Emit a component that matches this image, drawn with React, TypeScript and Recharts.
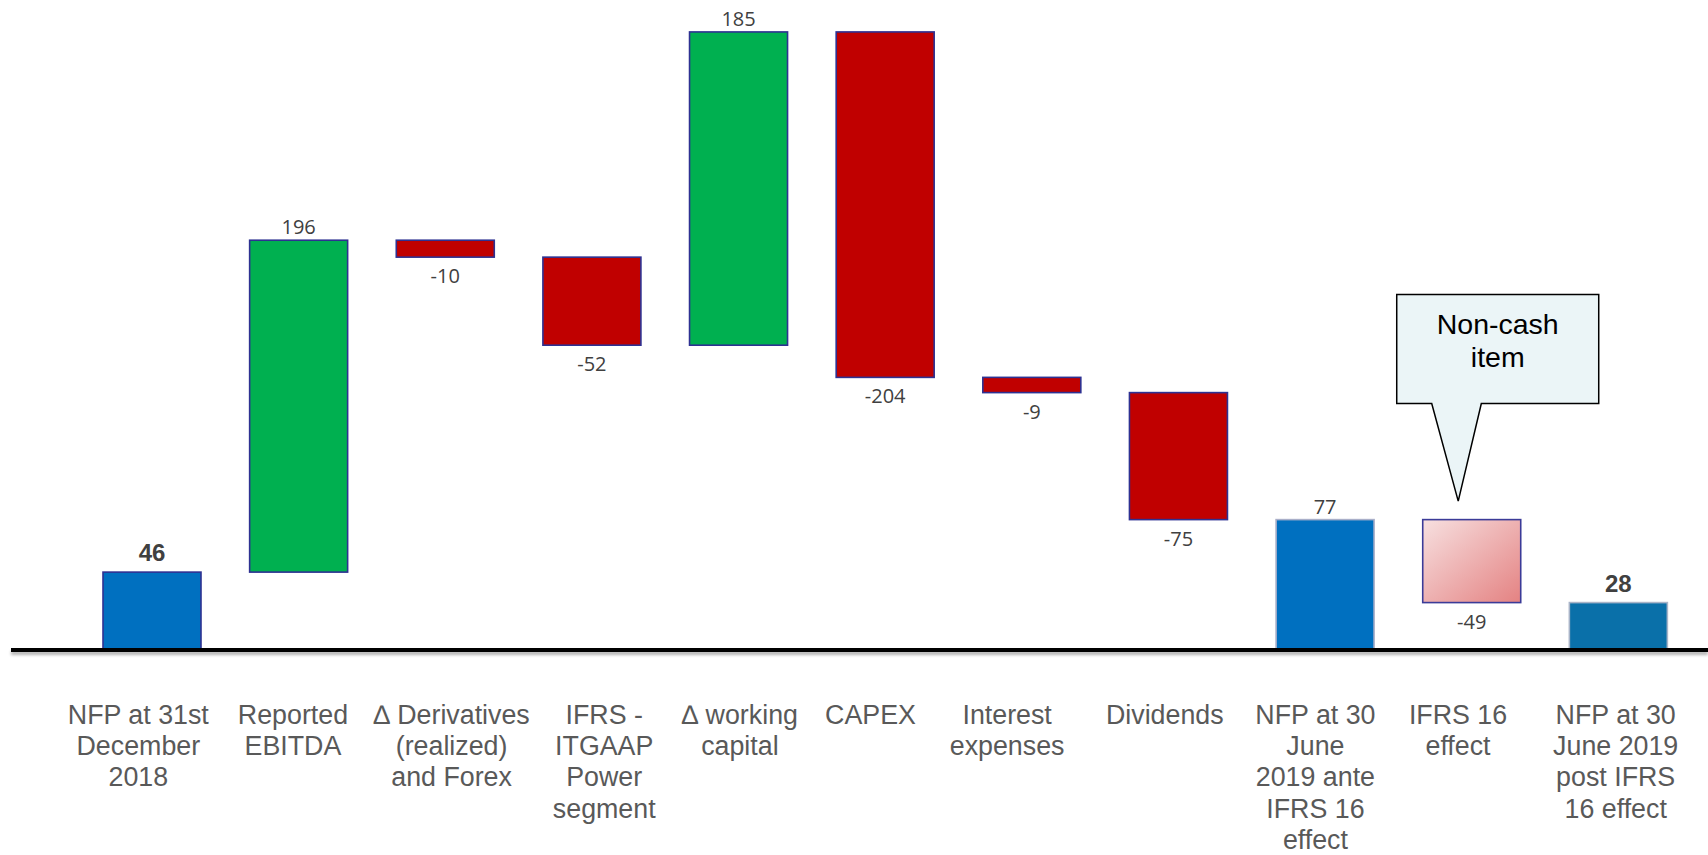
import React from 'react';
import { BarChart, Bar, XAxis, YAxis } from 'recharts';

const categories = [
  'NFP at 31st\nDecember\n2018',
  'Reported\nEBITDA',
  '∆ Derivatives\n(realized)\nand Forex',
  'IFRS -\nITGAAP\nPower\nsegment',
  '∆ working\ncapital',
  'CAPEX',
  'Interest\nexpenses',
  'Dividends',
  'NFP at 30\nJune\n2019 ante\nIFRS 16\neffect',
  'IFRS 16\neffect',
  'NFP at 30\nJune 2019\npost IFRS\n16 effect',
];
const values = [46, 196, -10, -52, 185, -204, -9, -75, 77, -49, 28];
const kinds = ['start', 'up', 'down', 'down', 'up', 'down', 'down', 'down', 'subtotal', 'noncash', 'end'];
const boldLabels = [true, false, false, false, false, false, false, false, false, false, true];
const notes = ['', '', '', '', '', '', '', '', '', 'Non-cash\nitem', ''];

// small horizontal nudges for the category text, as in the slide
const labelNudge = [-14, -6, 6, 12, 1, -15, -25, -14, -10, -14, -3];

const FILL: Record<string, string> = {
  start: '#0070C0',
  up: '#00B050',
  down: '#C00000',
  subtotal: '#0070C0',
  noncash: 'url(#noncashGrad)',
  end: '#0A70A9',
};
const STROKE: Record<string, string> = {
  start: '#2E3192',
  up: '#2E3192',
  down: '#2E3192',
  subtotal: '#A9AFC9',
  noncash: '#3B3B98',
  end: '#A9B4C8',
};

let running = 0;
const data = categories.map((name, i) => {
  const v = values[i];
  const k = kinds[i];
  let base = 0;
  let span = 0;
  if (k === 'start' || k === 'subtotal' || k === 'end') {
    base = 0;
    span = v;
    running = v;
  } else if (v >= 0) {
    base = running;
    span = v;
    running += v;
  } else {
    running += v;
    base = running;
    span = -v;
  }
  return { name, value: v, kind: k, bold: boldLabels[i], note: notes[i], base, span };
});

const Callout = ({ cx, y, text }: { cx: number; y: number; text: string }) => {
  const left = cx - 75;
  const right = cx + 127;
  const top = y - 225;
  const bottom = y - 116;
  const path = `M${left},${top} H${right} V${bottom} H${cx + 9.6} L${cx - 13.5},${y - 18.5} L${cx - 40},${bottom} H${left} Z`;
  const lines = text.split('\n');
  return (
    <g>
      <path d={path} fill="#EBF5F7" stroke="#000" strokeWidth={1.5} strokeLinejoin="miter" />
      <text
        x={cx + 26}
        y={y - 186}
        textAnchor="middle"
        fontFamily="Arial, 'Liberation Sans', sans-serif"
        fontSize={28.5}
        fill="#000"
      >
        {lines.map((l, j) => (
          <tspan key={j} x={cx + 26} dy={j === 0 ? 0 : 33.5}>
            {l}
          </tspan>
        ))}
      </text>
    </g>
  );
};

const StepShape = (props: any) => {
  const { x, y, width, height, payload } = props;
  if (!payload || width == null) return null;
  const cx = x + width / 2;
  const neg = payload.value < 0;
  const label = String(payload.value);
  return (
    <g>
      {payload.kind === 'noncash' && (
        <defs>
          <linearGradient id="noncashGrad" x1="0" y1="0" x2="1" y2="1">
            <stop offset="0" stopColor="#F7E0E0" />
            <stop offset="1" stopColor="#E48282" />
          </linearGradient>
        </defs>
      )}
      <rect
        x={x}
        y={y}
        width={width}
        height={height}
        fill={FILL[payload.kind]}
        stroke={STROKE[payload.kind]}
        strokeWidth={1.6}
      />
      {payload.bold ? (
        <text
          x={cx}
          y={y - 11}
          textAnchor="middle"
          fontFamily="Arial, 'Liberation Sans', sans-serif"
          fontWeight="bold"
          fontSize={24}
          fill="#404040"
        >
          {label}
        </text>
      ) : (
        <text
          x={cx}
          y={neg ? y + height + 26 : y - 6}
          textAnchor="middle"
          fontFamily="'Open Sans', 'Noto Sans', sans-serif"
          fontSize={20}
          fill="#404040"
        >
          {label}
        </text>
      )}
      {payload.note ? <Callout cx={cx} y={y} text={payload.note} /> : null}
    </g>
  );
};

const CategoryTick = (props: any) => {
  const { x, y, payload } = props;
  const i = categories.indexOf(payload.value);
  const lines = String(payload.value).split('\n');
  const tx = x + (labelNudge[i] || 0);
  return (
    <text
      x={tx}
      y={y + 74}
      textAnchor="middle"
      fontFamily="Arial, 'Liberation Sans', sans-serif"
      fontSize={26.8}
      fill="#595959"
    >
      {lines.map((l, j) => (
        <tspan key={j} x={tx} dy={j === 0 ? 0 : 31.2}>
          {l}
        </tspan>
      ))}
    </text>
  );
};

export default function App() {
  return (
    <div style={{ position: 'absolute', left: 0, top: 0, width: 1708, height: 855, background: '#fff' }}>
      <BarChart
        width={1708}
        height={855}
        data={data}
        margin={{ top: 15, right: 0, bottom: 0, left: 11 }}
        barSize={98}
      >
        <defs>
          <filter id="axisShadow" filterUnits="userSpaceOnUse" x="0" y="630" width="1708" height="40">
            <feDropShadow dx="0" dy="3" stdDeviation="1.5" floodColor="#000" floodOpacity="0.3" />
          </filter>
        </defs>
        <XAxis
          dataKey="name"
          height={205}
          interval={0}
          tickSize={0}
          tickMargin={0}
          tickLine={false}
          padding={{ left: 68, right: 16 }}
          axisLine={{ stroke: '#000', strokeWidth: 4, filter: 'url(#axisShadow)' }}
          tick={<CategoryTick />}
        />
        <YAxis hide domain={[0, 375]} />
        <Bar dataKey="base" stackId="w" fill="none" isAnimationActive={false} />
        <Bar dataKey="span" stackId="w" isAnimationActive={false} shape={<StepShape />} />
      </BarChart>
    </div>
  );
}
